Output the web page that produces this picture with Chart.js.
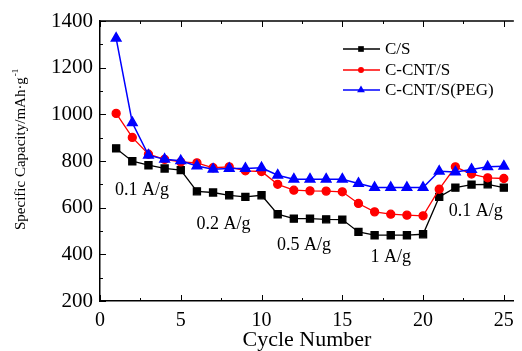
<!DOCTYPE html>
<html>
<head>
<meta charset="utf-8">
<script src="https://cdn.jsdelivr.net/npm/chart.js@4.4.1/dist/chart.umd.min.js"></script>
<style>
  html, body { margin: 0; padding: 0; background: #fff; }
  #wrap { position: relative; width: 522px; height: 351px; }
</style>
</head>
<body>
<div id="wrap"><canvas id="capacityChart" width="522" height="351"></canvas></div>
<script>
// Rate capability: specific capacity vs cycle number

const cycles = [1, 2, 3, 4, 5, 6, 7, 8, 9, 10, 11, 12, 13, 14, 15, 16, 17, 18, 19, 20, 21, 22, 23, 24, 25];
const csValues = [854, 799, 782, 768, 761, 670, 665, 653, 646, 653, 572, 553, 553, 550, 549, 496, 482, 482, 482, 486, 646, 686, 699, 700, 686];
const cntValues = [1004, 901, 829, 807, 796, 792, 771, 775, 758, 755, 700, 675, 672, 671, 668, 618, 582, 572, 568, 565, 679, 775, 744, 728, 725];
const pegValues = [1326, 964, 825, 807, 801, 779, 765, 768, 768, 771, 739, 722, 722, 722, 722, 704, 686, 686, 686, 686, 756, 753, 764, 775, 778];

const seriesNames = ["C/S", "C-CNT/S", "C-CNT/S(PEG)"];
const xTickValues = [0, 5, 10, 15, 20, 25];
const yTickValues = [200, 400, 600, 800, 1000, 1200, 1400];

// current density labels, placed in data coordinates
const rateLabels = ["0.1 A/g", "0.2 A/g", "0.5 A/g", "1 A/g", "0.1 A/g"];
const rateX = [2.6, 7.65, 12.63, 18.0, 23.26];
const rateY = [675, 529, 439, 389, 585];

const FONT = "'Liberation Serif', 'Times New Roman', serif";
Chart.defaults.font.family = FONT;
Chart.defaults.color = "#000";

function toPoints(values) {
  return values.map((v, i) => ({ x: cycles[i], y: v }));
}

// Frame, inward ticks, y title, legend and rate labels
const decorations = {
  id: "decorations",
  afterDraw(chart) {
    const { ctx, chartArea: a, scales: { x, y } } = chart;
    ctx.save();

    // top border
    ctx.strokeStyle = "#000";
    ctx.lineWidth = 1.5;
    ctx.beginPath();
    ctx.moveTo(a.left, a.top);
    ctx.lineTo(a.right, a.top);
    ctx.stroke();

    // inward ticks
    ctx.lineWidth = 1;
    ctx.beginPath();
    for (let v = 0; v <= 25; v += 2.5) {
      const px = Math.round(x.getPixelForValue(v)) + 0.5;
      const len = v % 5 === 0 ? 6 : 3;
      ctx.moveTo(px, a.bottom);
      ctx.lineTo(px, a.bottom - len);
      ctx.moveTo(px, a.top);
      ctx.lineTo(px, a.top + len);
    }
    for (let v = 200; v <= 1400; v += 100) {
      const py = Math.round(y.getPixelForValue(v)) + 0.5;
      const len = v % 200 === 0 ? 6 : 3;
      ctx.moveTo(a.left, py);
      ctx.lineTo(a.left + len, py);
    }
    ctx.stroke();

    // y axis title with superscript
    ctx.save();
    ctx.translate(25, 230);
    ctx.rotate(-Math.PI / 2);
    ctx.fillStyle = "#000";
    ctx.textAlign = "left";
    ctx.textBaseline = "alphabetic";
    ctx.font = "15px " + FONT;
    const main = "Specific Capacity/mAh\u00B7g";
    ctx.fillText(main, 0, 0);
    const w = ctx.measureText(main).width;
    ctx.font = "9px " + FONT;
    ctx.fillText("-1", w + 1, -7);
    ctx.restore();

    // rate labels
    ctx.font = "18px " + FONT;
    ctx.fillStyle = "#000";
    ctx.textAlign = "center";
    ctx.textBaseline = "middle";
    rateLabels.forEach((t, i) => {
      ctx.fillText(t, x.getPixelForValue(rateX[i]), y.getPixelForValue(rateY[i]));
    });

    // legend (line + marker + label)
    const rows = [49, 70, 90];
    ctx.font = "17px " + FONT;
    ctx.textAlign = "left";
    chart.data.datasets.slice().sort((p, q) => seriesNames.indexOf(p.label) - seriesNames.indexOf(q.label))
      .forEach((ds, i) => {
        const ry = rows[i];
        ctx.strokeStyle = ds.borderColor;
        ctx.lineWidth = 1.5;
        ctx.beginPath();
        ctx.moveTo(343, ry);
        ctx.lineTo(380, ry);
        ctx.stroke();
        ctx.fillStyle = ds.pointBackgroundColor;
        Chart.helpers.drawPoint(ctx, { pointStyle: ds.pointStyle, radius: ds.pointRadius - 1, borderWidth: 0 }, 361, ry);
        ctx.fillStyle = "#000";
        ctx.fillText(ds.label, 385, ry + 1);
      });

    ctx.restore();
  }
};

const ctx = document.getElementById("capacityChart").getContext("2d");
new Chart(ctx, {
  type: "line",
  data: {
    datasets: [
      {
        label: seriesNames[0],
        data: toPoints(csValues),
        borderColor: "#000000",
        backgroundColor: "#000000",
        pointBackgroundColor: "#000000",
        pointBorderColor: "#000000",
        pointStyle: "rect",
        pointRadius: 5,
        borderWidth: 1.3,
        order: 2
      },
      {
        label: seriesNames[1],
        data: toPoints(cntValues),
        borderColor: "#ff0000",
        backgroundColor: "#ff0000",
        pointBackgroundColor: "#ff0000",
        pointBorderColor: "#ff0000",
        pointStyle: "circle",
        pointRadius: 4,
        borderWidth: 1.3,
        order: 1
      },
      {
        label: seriesNames[2],
        data: toPoints(pegValues),
        borderColor: "#0000ff",
        backgroundColor: "#0000ff",
        pointBackgroundColor: "#0000ff",
        pointBorderColor: "#0000ff",
        pointStyle: "triangle",
        pointRadius: 5.5,
        borderWidth: 1.5,
        order: 0
      }
    ]
  },
  options: {
    responsive: false,
    animation: false,
    layout: { padding: { top: 21, right: 0, left: 0, bottom: 0 } },
    elements: { line: { tension: 0 }, point: { borderWidth: 0, hoverRadius: 5 } },
    plugins: {
      legend: { display: false },
      tooltip: { enabled: false }
    },
    scales: {
      x: {
        type: "linear",
        min: 0,
        max: 25.62,
        afterBuildTicks: scale => { scale.ticks = xTickValues.map(v => ({ value: v })); },
        afterFit: scale => { scale.height = 50; },
        grid: { display: false, drawTicks: false },
        border: { display: true, color: "#000", width: 1.5 },
        ticks: { padding: 8, font: { size: 20 }, color: "#000", maxRotation: 0, callback: v => String(v) },
        title: {
          display: true,
          text: "Cycle Number",
          font: { size: 22, lineHeight: 1 },
          padding: { top: 0, bottom: 0 },
          color: "#000"
        }
      },
      y: {
        min: 200,
        max: 1400,
        afterBuildTicks: scale => { scale.ticks = yTickValues.map(v => ({ value: v })); },
        afterFit: scale => { scale.width = 100; },
        grid: { display: false, drawTicks: false },
        border: { display: true, color: "#000", width: 1.5 },
        ticks: { padding: 7, font: { size: 21 }, color: "#000", callback: v => String(v) }
      }
    }
  },
  plugins: [decorations]
});
</script>
</body>
</html>
